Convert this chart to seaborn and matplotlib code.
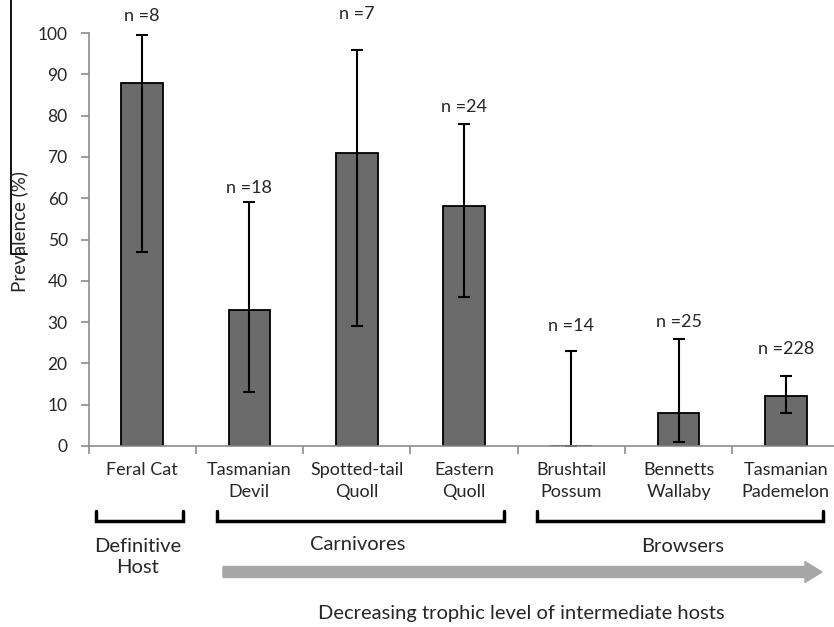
import numpy as np
import pandas as pd
import matplotlib
matplotlib.use("Agg")
import matplotlib.pyplot as plt
import matplotlib.transforms as mtransforms
from matplotlib.patches import FancyArrow
from matplotlib.lines import Line2D
import seaborn as sns

# data
species = ["Feral Cat", "Tasmanian\nDevil", "Spotted-tail\nQuoll", "Eastern\nQuoll",
           "Brushtail\nPossum", "Bennetts\nWallaby", "Tasmanian\nPademelon"]
prevalence = [88, 33, 71, 58, 0, 8, 12]
ci_low = [47, 13, 29, 36, 0, 1, 8]
ci_high = [99.5, 59, 96, 78, 23, 26, 17]
n_labels = ["n =8", "n =18", "n =7", "n =24", "n =14", "n =25", "n =228"]
n_label_y = [104.1, 62.5, 104.5, 82.1, 29, 30, 23.5]

sns.set_style("white")
plt.rcParams["font.family"] = ["Lato", "DejaVu Sans"]

W, H = 834, 627
fig = plt.figure(figsize=(W / 100, H / 100), dpi=100)
ax = fig.add_axes([88.5 / W, 1 - 446 / H, 751 / W, 413 / H])

df = pd.DataFrame({"species": species, "prevalence": prevalence})
sns.barplot(data=df, x="species", y="prevalence", color="#6b6b6b", saturation=1,
            width=0.39, edgecolor="black", linewidth=1.3, ax=ax)

vals = np.array(prevalence, dtype=float)
yerr = [vals - np.array(ci_low), np.array(ci_high) - vals]
ax.errorbar(np.arange(len(species)), vals, yerr=yerr, fmt="none", ecolor="black",
            elinewidth=1.5, capsize=4.5, capthick=1.5, zorder=2.2)

for i, (lab, y) in enumerate(zip(n_labels, n_label_y)):
    ax.text(i, y, lab, ha="center", va="center", fontsize=13, clip_on=False)

ax.set_xlim(-0.5, 6.5)
ax.set_ylim(0, 100)
ax.set_yticks(range(0, 101, 10))
ax.set_xlabel("")
ax.set_ylabel("")
for s in ["top", "right"]:
    ax.spines[s].set_visible(False)
for s in ["left", "bottom"]:
    ax.spines[s].set_color("#8c8c8c")
    ax.spines[s].set_linewidth(1.2)
    ax.spines[s].set_zorder(2.5)
ax.tick_params(axis="y", direction="out", length=6, width=1.2, color="#8c8c8c",
               labelsize=12.5, pad=9, left=True)
ax.tick_params(axis="x", which="major", length=0, labelbottom=False)
ax.set_xticks(np.arange(-0.5, 7, 1), minor=True)
ax.tick_params(axis="x", which="minor", direction="out", length=6, width=1.2,
               color="#8c8c8c", bottom=True)

# pixel transform (origin top-left) for the annotations below the axes
px = mtransforms.Affine2D().scale(1 / W, -1 / H).translate(0, 1) + fig.transFigure
xdata_ypx = mtransforms.blended_transform_factory(ax.transData, px)

for i, name in enumerate(species):
    ax.text(i, 462, name, transform=xdata_ypx, ha="center", va="top",
            fontsize=13, linespacing=1.45)

fig.text(19, 231, "Prevalence (%)", transform=px, rotation=90, ha="center",
         va="center", fontsize=13.5)
fig.add_artist(Line2D([11, 11, 27], [0, 254, 254], transform=px, color="black", lw=1.3))

# group brackets
for x0, x1 in [(96, 183), (217, 504), (537, 823)]:
    fig.add_artist(Line2D([x0, x0, x1, x1], [511, 521, 521, 511], transform=px,
                          color="black", lw=2.5, solid_joinstyle="miter"))

fig.text(138, 557, "Definitive\nHost", transform=px, ha="center", va="center",
         fontsize=14.5, linespacing=1.25)
fig.text(358, 544, "Carnivores", transform=px, ha="center", va="center", fontsize=14.5)
fig.text(683, 547, "Browsers", transform=px, ha="center", va="center", fontsize=14.5)

fig.add_artist(FancyArrow(223, 572, 822 - 223, 0, width=11, head_width=21,
                          head_length=17, length_includes_head=True,
                          color="#a6a6a6", transform=px))
fig.text(521, 613, "Decreasing trophic level of intermediate hosts", transform=px,
         ha="center", va="center", fontsize=14.5)

fig.savefig("out.png", dpi=100)
